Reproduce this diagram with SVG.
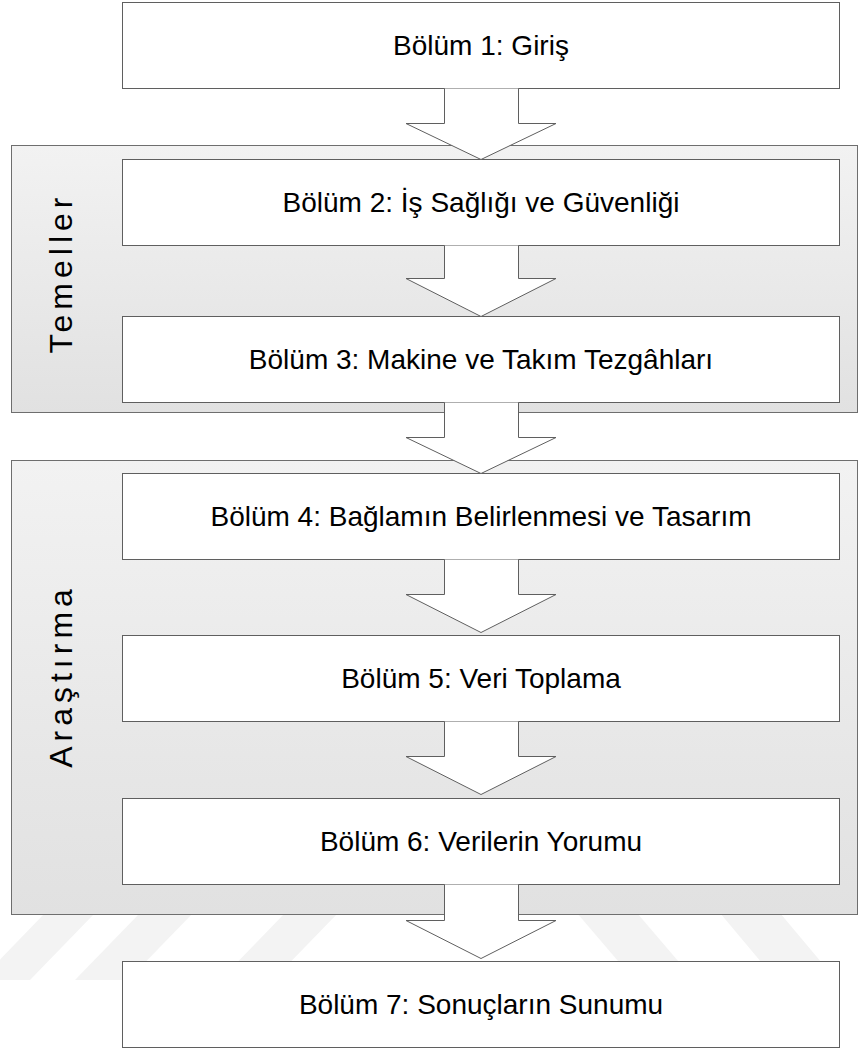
<svg xmlns="http://www.w3.org/2000/svg" width="859" height="1048" viewBox="0 0 859 1048">
  <defs>
    <linearGradient id="groupFill" x1="0" y1="0" x2="0" y2="1">
      <stop offset="0" stop-color="#f2f2f2"/>
      <stop offset="1" stop-color="#e1e1e1"/>
    </linearGradient>
    <style>
      .group { fill: url(#groupFill); stroke: #6e6e6e; stroke-width: 1; }
      .box { fill: #ffffff; stroke: #5f5f5f; stroke-width: 1; }
      .label { font-family: "Liberation Sans", Arial, sans-serif; font-size: 28px; fill: #000000; text-anchor: middle; }
      .glabel { font-family: "Liberation Sans", Arial, sans-serif; font-size: 32px; fill: #000000; text-anchor: middle; letter-spacing: 5px; }
      .arrow { fill: #ffffff; stroke: #5f5f5f; stroke-width: 1; stroke-linejoin: miter; }
      .mark { fill: #f3f3f3; }
    </style>
  </defs>

  <rect width="859" height="1048" fill="#ffffff"/>

  <!-- faint background stripes -->
  <g id="background-stripes">
    <polygon class="mark" points="-20,980 30,980 95,913 45,913"/>
    <polygon class="mark" points="75,980 128,980 193,913 140,913"/>
    <polygon class="mark" points="220,980 273,980 338,913 285,913"/>
    <polygon class="mark" points="577,913 637,913 690,975 630,975"/>
    <polygon class="mark" points="720,913 780,913 832,975 772,975"/>
  </g>

  <!-- section groups -->
  <g id="group-temeller">
    <rect class="group" x="11.5" y="145.5" width="846" height="267"/>
    <text class="glabel" transform="translate(72,273) rotate(-90)">Temeller</text>
  </g>
  <g id="group-arastirma">
    <rect class="group" x="11.5" y="460.5" width="846" height="454"/>
    <text class="glabel" transform="translate(72,676) rotate(-90)">Araştırma</text>
  </g>

  <!-- chapter boxes -->
  <g id="chapter-1">
    <rect class="box" x="122.5" y="2.5" width="717" height="86"/>
    <text class="label" x="481" y="55">Bölüm 1: Giriş</text>
  </g>
  <g id="chapter-2">
    <rect class="box" x="122.5" y="159.5" width="717" height="86"/>
    <text class="label" x="481" y="212">Bölüm 2: İş Sağlığı ve Güvenliği</text>
  </g>
  <g id="chapter-3">
    <rect class="box" x="122.5" y="316.5" width="717" height="86"/>
    <text class="label" x="481" y="369">Bölüm 3: Makine ve Takım Tezgâhları</text>
  </g>
  <g id="chapter-4">
    <rect class="box" x="122.5" y="473.5" width="717" height="86"/>
    <text class="label" x="481" y="526">Bölüm 4: Bağlamın Belirlenmesi ve Tasarım</text>
  </g>
  <g id="chapter-5">
    <rect class="box" x="122.5" y="635.5" width="717" height="86"/>
    <text class="label" x="481" y="688">Bölüm 5: Veri Toplama</text>
  </g>
  <g id="chapter-6">
    <rect class="box" x="122.5" y="798.5" width="717" height="86"/>
    <text class="label" x="481" y="851">Bölüm 6: Verilerin Yorumu</text>
  </g>
  <g id="chapter-7">
    <rect class="box" x="122.5" y="961.5" width="717" height="86"/>
    <text class="label" x="481" y="1014">Bölüm 7: Sonuçların Sunumu</text>
  </g>

  <!-- block arrows between chapters -->
  <g id="connectors">
    <path class="arrow" d="M444.5,88.5 V123.5 H406 L481,159.5 L556,123.5 H518.5 V88.5"/>
    <path class="arrow" d="M444.5,245.5 V278.5 H406 L481,316.5 L556,278.5 H518.5 V245.5"/>
    <path class="arrow" d="M444.5,402.5 V437.5 H406 L481,473.5 L556,437.5 H518.5 V402.5"/>
    <path class="arrow" d="M444.5,559.5 V594.5 H406 L481,632.5 L556,594.5 H518.5 V559.5"/>
    <path class="arrow" d="M444.5,721.5 V756.5 H406 L481,794.5 L556,756.5 H518.5 V721.5"/>
    <path class="arrow" d="M444.5,884.5 V920.5 H406 L481,958.5 L556,920.5 H518.5 V884.5"/>
  </g>
</svg>
